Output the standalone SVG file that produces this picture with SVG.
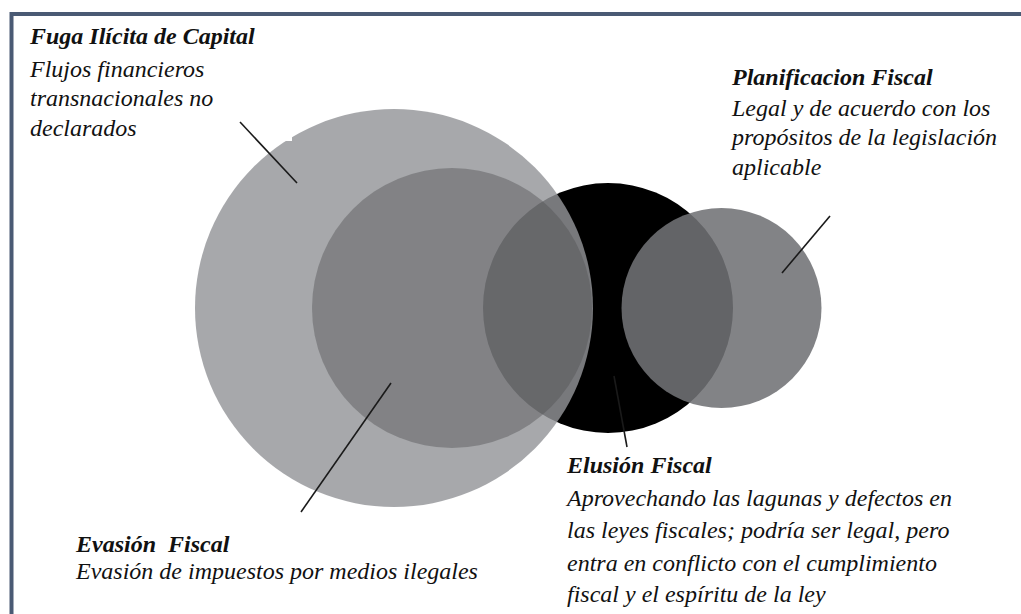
<svg xmlns="http://www.w3.org/2000/svg" width="1021" height="614" viewBox="0 0 1021 614">
  <style>
    .frame { stroke: #4a5a74; stroke-width: 4; fill: none; }
    .lead { stroke: #1a1a1a; stroke-width: 1.6; fill: none; }
  </style>
  <rect width="1021" height="614" fill="#ffffff"/>

  <!-- frame: top and left rules only -->
  <path class="frame" d="M11.5 614 V14 H1021"/>

  <!-- solid black disc sits underneath the translucent grey discs -->
  <g id="elusion">
    <circle cx="608" cy="308" r="125" fill="#000000"/>
  </g>
  <g id="fuga">
    <circle cx="394" cy="308" r="199" fill="#939498" fill-opacity="0.816"/>
  </g>
  <g id="evasion">
    <circle cx="452" cy="308" r="140" fill="#505154" fill-opacity="0.43"/>
  </g>
  <g id="planificacion">
    <circle cx="721.5" cy="308" r="100" fill="#717275" fill-opacity="0.878"/>
  </g>

  <!-- white backing of the top-left caption box -->
  <rect x="200" y="120" width="92" height="21" fill="#ffffff"/>

  <!-- leader lines -->
  <g id="connectors">
    <line class="lead" x1="240" y1="122" x2="297" y2="183"/>
    <line class="lead" x1="391" y1="383" x2="301" y2="512"/>
    <line class="lead" x1="614" y1="376" x2="627" y2="447" stroke="#3a3a3a"/>
    <line class="lead" x1="830" y1="216" x2="782" y2="273"/>
  </g>

  <!-- captions -->
  <g id="label-fuga" fill="#111">
    <text x="30" y="43.5" font-family="serif" font-style="italic" font-weight="bold" font-size="24">Fuga Ilícita de Capital</text>
    <text x="30" y="76.5" font-family="serif" font-style="italic" font-size="24">Flujos financieros</text>
    <text x="30" y="106" font-family="serif" font-style="italic" font-size="24">transnacionales no</text>
    <text x="30" y="135.5" font-family="serif" font-style="italic" font-size="24">declarados</text>
  </g>
  <g id="label-planificacion" fill="#111">
    <text x="732" y="85" font-family="serif" font-style="italic" font-weight="bold" font-size="24">Planificacion Fiscal</text>
    <text x="732" y="116" font-family="serif" font-style="italic" font-size="24">Legal y de acuerdo con los</text>
    <text x="732" y="145" font-family="serif" font-style="italic" font-size="24">propósitos de la legislación</text>
    <text x="732" y="175" font-family="serif" font-style="italic" font-size="24">aplicable</text>
  </g>
  <g id="label-elusion" fill="#111">
    <text x="567" y="473" font-family="serif" font-style="italic" font-weight="bold" font-size="24">Elusión Fiscal</text>
    <text x="567" y="506" font-family="serif" font-style="italic" font-size="24">Aprovechando las lagunas y defectos en</text>
    <text x="567" y="538" font-family="serif" font-style="italic" font-size="24">las leyes fiscales; podría ser legal, pero</text>
    <text x="567" y="571" font-family="serif" font-style="italic" font-size="24">entra en conflicto con el cumplimiento</text>
    <text x="567" y="602" font-family="serif" font-style="italic" font-size="24">fiscal y el espíritu de la ley</text>
  </g>
  <g id="label-evasion" fill="#111">
    <text x="76" y="552" font-family="serif" font-style="italic" font-weight="bold" font-size="24">Evasión <tspan dx="6">Fiscal</tspan></text>
    <text x="76" y="579" font-family="serif" font-style="italic" font-size="24">Evasión de impuestos por medios ilegales</text>
  </g>
</svg>
